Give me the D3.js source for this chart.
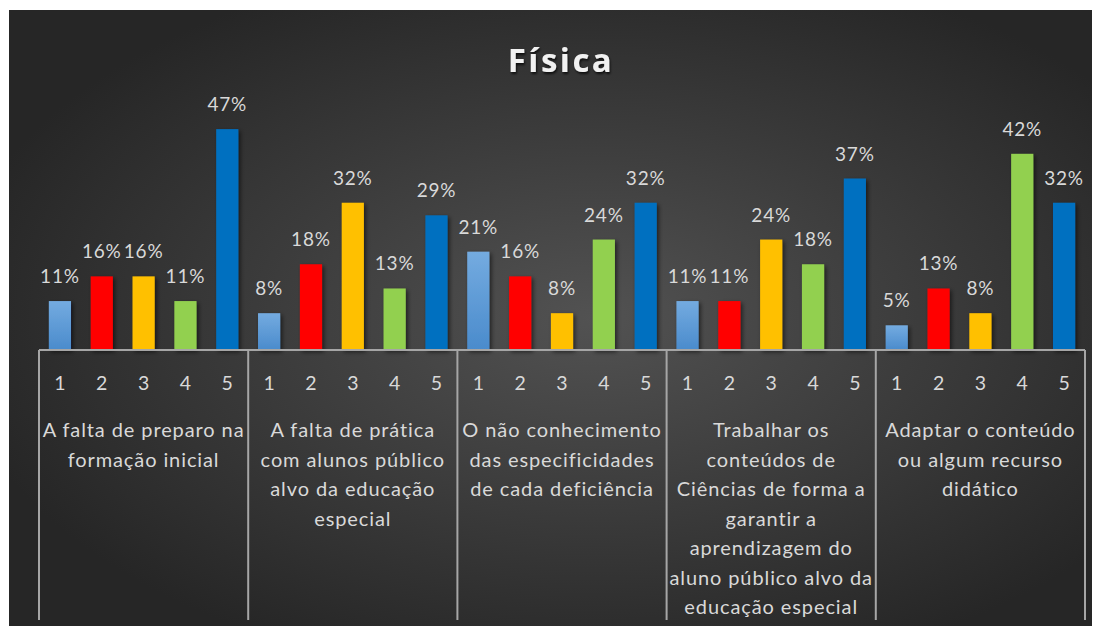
<!DOCTYPE html>
<html>
<head>
<meta charset="utf-8">
<script src="https://cdn.jsdelivr.net/npm/d3@7"></script>
<style>
  body { margin: 0; background: #fff; }
  svg text { font-family: Lato, "Open Sans", sans-serif; }
</style>
</head>
<body>
<svg id="vis" width="1102" height="626"></svg>
<script>
const width = 1102;
const height = 626;

// categories (multi-line labels as shown in the picture)
const groups = [
  ["A falta de preparo na", "formação inicial"],
  ["A falta de prática", "com alunos público", "alvo da educação", "especial"],
  ["O não conhecimento", "das especificidades", "de cada deficiência"],
  ["Trabalhar os", "conteúdos de", "Ciências de forma a", "garantir a", "aprendizagem do", "aluno público alvo da", "educação especial"],
  ["Adaptar o conteúdo", "ou algum recurso", "didático"]
];
const levels = ["1", "2", "3", "4", "5"];
const levelColors = ["#5b9bd5", "#ff0000", "#ffc000", "#92d050", "#0070c0"];

// percentages per group, levels 1..5
const values = [
  [10.5, 15.8, 15.8, 10.5, 47.4],
  [7.9, 18.4, 31.6, 13.2, 28.9],
  [21.1, 15.8, 7.9, 23.7, 31.6],
  [10.5, 10.5, 23.7, 18.4, 36.8],
  [5.3, 13.2, 7.9, 42.1, 31.6]
];

const svg = d3.select("svg#vis");
const defs = svg.append("defs");

const bg = defs.append("radialGradient").attr("id", "bg")
  .attr("cx", "54%").attr("cy", "50%").attr("r", "60%");
bg.append("stop").attr("offset", "0%").attr("stop-color", "#525252");
bg.append("stop").attr("offset", "100%").attr("stop-color", "#262626");

const lb = defs.append("linearGradient").attr("id", "lightblue")
  .attr("x1", 0).attr("y1", 0).attr("x2", 0).attr("y2", 1);
lb.append("stop").attr("offset", "0%").attr("stop-color", "#74abe0");
lb.append("stop").attr("offset", "100%").attr("stop-color", "#4a8bcc");

const shadow = defs.append("filter").attr("id", "shadow")
  .attr("x", "-30%").attr("y", "-30%").attr("width", "160%").attr("height", "160%");
shadow.append("feDropShadow").attr("dx", 2).attr("dy", 2).attr("stdDeviation", 2)
  .attr("flood-color", "#000").attr("flood-opacity", 0.55);

const tshadow = defs.append("filter").attr("id", "tshadow");
tshadow.append("feDropShadow").attr("dx", 1).attr("dy", 2).attr("stdDeviation", 1.2)
  .attr("flood-color", "#000").attr("flood-opacity", 0.7);

// chart background
svg.append("rect")
  .attr("x", 9).attr("y", 10)
  .attr("width", 1083).attr("height", 616)
  .attr("fill", "url(#bg)");

const plot = { left: 39, right: 1085, base: 350, bottom: 620 };

// flattened bars
const bars = [];
values.forEach(function(row, gi) {
  row.forEach(function(v, li) {
    bars.push({ group: gi, level: li, value: v, key: gi + "-" + li });
  });
});

const x = d3.scaleBand()
  .domain(bars.map(d => d.key))
  .range([plot.left, plot.right])
  .paddingInner(0.47)
  .paddingOuter(0.235);

const y = d3.scaleLinear().domain([0, 50]).range([plot.base, 117]);

const gx = d3.scaleBand()
  .domain(d3.range(groups.length))
  .range([plot.left, plot.right]);

// title
svg.append("text")
  .attr("x", 561).attr("y", 72)
  .attr("text-anchor", "middle")
  .style("font-family", "'Open Sans', sans-serif")
  .style("font-weight", "bold")
  .style("font-size", "33px")
  .style("letter-spacing", "2.5px")
  .attr("fill", "#f2f2f2")
  .attr("filter", "url(#tshadow)")
  .text("Física");

// bars
svg.append("g").selectAll("rect")
  .data(bars)
  .enter()
  .append("rect")
  .attr("x", d => x(d.key))
  .attr("y", d => y(d.value))
  .attr("width", x.bandwidth())
  .attr("height", d => y(0) - y(d.value))
  .attr("fill", d => d.level === 0 ? "url(#lightblue)" : levelColors[d.level])
  .attr("filter", "url(#shadow)");

// value labels
svg.append("g").selectAll("text")
  .data(bars)
  .enter()
  .append("text")
  .attr("x", d => x(d.key) + x.bandwidth() / 2)
  .attr("y", d => y(d.value) - 18)
  .attr("text-anchor", "middle")
  .style("font-size", "19px")
  .style("letter-spacing", "0.8px")
  .attr("fill", "#d9d9d9")
  .text(d => Math.round(d.value) + "%");

// axis lines
const axis = svg.append("g").attr("stroke", "#a6a6a6").attr("stroke-width", 2);
axis.append("line")
  .attr("x1", plot.left).attr("x2", plot.right)
  .attr("y1", plot.base).attr("y2", plot.base);
axis.selectAll("line.div")
  .data(d3.range(groups.length + 1))
  .enter()
  .append("line")
  .attr("class", "div")
  .attr("x1", d => d < groups.length ? gx(d) : plot.right)
  .attr("x2", d => d < groups.length ? gx(d) : plot.right)
  .attr("y1", plot.base).attr("y2", plot.bottom);

// level ticks 1..5
svg.append("g").selectAll("text")
  .data(bars)
  .enter()
  .append("text")
  .attr("x", d => x(d.key) + x.bandwidth() / 2)
  .attr("y", 390)
  .attr("text-anchor", "middle")
  .style("font-size", "19.5px")
  .attr("fill", "#d9d9d9")
  .text(d => levels[d.level]);

// group labels
const gl = svg.append("g").selectAll("text")
  .data(groups)
  .enter()
  .append("text")
  .attr("text-anchor", "middle")
  .style("font-size", "20px")
  .style("letter-spacing", "0.9px")
  .attr("fill", "#d9d9d9");

gl.selectAll("tspan")
  .data((d, i) => d.map(line => ({ line: line, gi: i })))
  .enter()
  .append("tspan")
  .attr("x", d => gx(d.gi) + gx.bandwidth() / 2)
  .attr("y", (d, j) => 437 + j * 29.5)
  .text(d => d.line);
</script>
</body>
</html>
